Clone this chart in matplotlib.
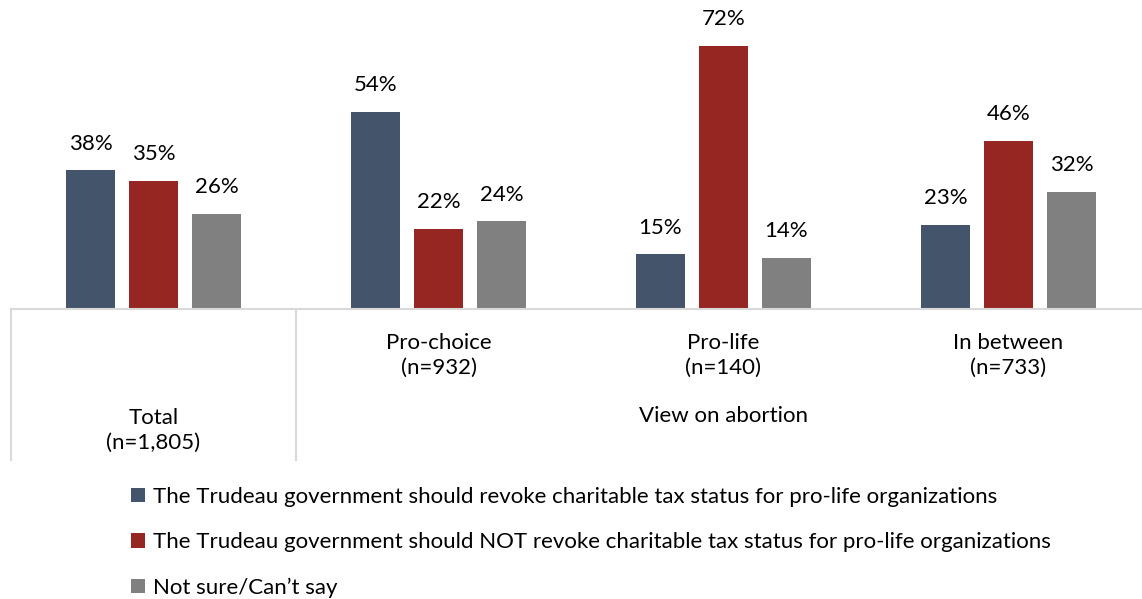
import matplotlib.pyplot as plt
from matplotlib.lines import Line2D
from matplotlib.patches import Patch
from matplotlib.transforms import blended_transform_factory
import numpy as np

plt.rcParams['font.family'] = ['Lato', 'DejaVu Sans']

# -----------------------------
# Data
# -----------------------------
groups = ["Total\n(n=1,805)", "Pro-choice\n(n=932)", "Pro-life\n(n=140)", "In between\n(n=733)"]
revoke = [38, 54, 15, 23]
not_revoke = [35, 22, 72, 46]
not_sure = [26, 24, 14, 32]
series_names = [
    "The Trudeau government should revoke charitable tax status for pro-life organizations",
    "The Trudeau government should NOT revoke charitable tax status for pro-life organizations",
    "Not sure/Can\u2019t say",
]
colors = ["#44546A", "#952622", "#808080"]
group_title = "View on abortion"

W, H = 1142, 599
fig = plt.figure(figsize=(W / 100, H / 100), dpi=100)

# axes: baseline at y=309px, category width 285px starting at x=11px
ax = fig.add_axes([11 / W, (H - 309) / H, 1131 / W, 309 / H])
x = np.arange(len(groups))
bw = 0.172
off = 0.221
for i, vals in enumerate([revoke, not_revoke, not_sure]):
    pos = x + (i - 1) * off
    ax.bar(pos, vals, width=bw, color=colors[i], label=series_names[i])
    for p, v in zip(pos, vals):
        ax.text(p, v + 7.3, f"{v}%", ha="center", va="center", fontsize=16, color="#000000")

ax.set_xlim(-0.5, -0.5 + 1131 / 285)
ax.set_ylim(0, 309 / 3.653)
ax.axis("off")

# baseline
fig.add_artist(Line2D([11 / W, 1], [(H - 309) / H] * 2, color="#D9D9D9", lw=1.5))
# category separators
for px in [11, 296]:
    fig.add_artist(Line2D([px / W] * 2, [(H - 309) / H, (H - 460) / H], color="#D9D9D9", lw=1.5))

# category labels
tr = blended_transform_factory(ax.transData, fig.transFigure)
ax.text(0, 1 - 430 / H, groups[0], transform=tr, ha="center", va="center",
        fontsize=16, linespacing=1.3)
for i in range(1, 4):
    ax.text(i, 1 - 355 / H, groups[i], transform=tr, ha="center", va="center",
            fontsize=16, linespacing=1.3)
ax.text(2, 1 - 416 / H, group_title, transform=tr, ha="center", va="center", fontsize=16)

# legend
handles = [Patch(facecolor=c, edgecolor="none") for c in colors]
fig.legend(handles, series_names, loc="upper left", bbox_to_anchor=(131 / W, 1 - 487 / H),
           frameon=False, fontsize=16, handlelength=0.63, handleheight=0.63,
           handletextpad=0.35, labelspacing=1.14, borderpad=0, borderaxespad=0)

fig.savefig("out.png", dpi=100)
